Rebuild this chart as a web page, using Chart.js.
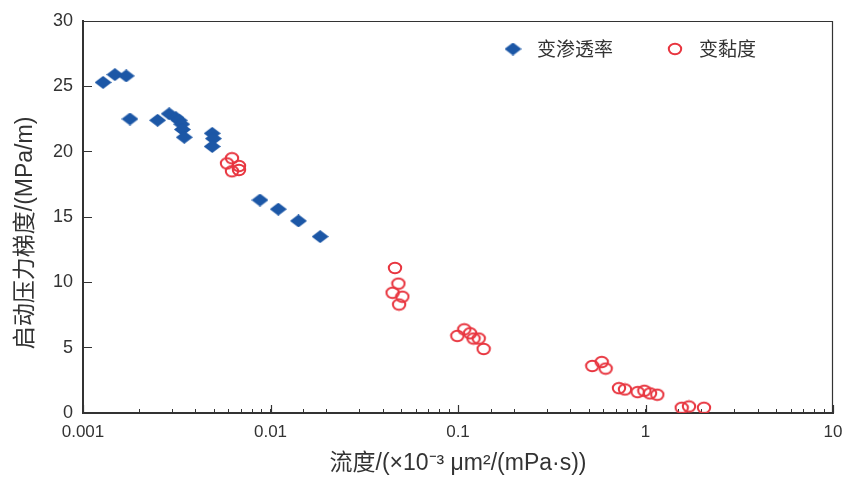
<!DOCTYPE html>
<html>
<head>
<meta charset="utf-8">
<script src="https://cdn.jsdelivr.net/npm/chart.js@4/dist/chart.umd.min.js"></script>
<style>
  html, body { margin: 0; padding: 0; background: #fff; }
</style>
</head>
<body>
<canvas id="myScatter" width="845" height="477"></canvas>
<script>
// series values
var permX = [0.00128, 0.00148, 0.00170, 0.00178, 0.00250, 0.00288, 0.00313, 0.00326, 0.00336,
	0.00339, 0.00347, 0.00489, 0.00496, 0.00489, 0.00879, 0.0110, 0.0141, 0.0184];
var permY = [25.3, 25.9, 25.8, 22.5, 22.4, 22.9, 22.6, 22.4, 22.1,
	21.7, 21.1, 21.4, 21.0, 20.4, 16.3, 15.6, 14.7, 13.5];

var viscX = [0.00586, 0.00623, 0.00679, 0.00623, 0.00679,
	0.0461, 0.0481, 0.0448, 0.0505, 0.0485,
	0.0992, 0.108, 0.116, 0.121, 0.129, 0.137,
	0.520, 0.584, 0.613, 0.722, 0.777, 0.908, 0.986, 1.057, 1.156,
	1.560, 1.706, 2.05];
var viscY = [19.1, 19.5, 18.9, 18.5, 18.6,
	11.1, 9.9, 9.2, 8.9, 8.3,
	5.9, 6.4, 6.1, 5.7, 5.7, 4.9,
	3.6, 3.9, 3.4, 1.9, 1.8, 1.6, 1.7, 1.5, 1.4,
	0.4, 0.5, 0.4];

var seriesLabels = ['变渗透率', '变黏度'];
var xTickLabels = ['0.001', '0.01', '0.1', '1', '10'];
var xTitle = '流度/(×10⁻³ μm²/(mPa·s))';
var yTitle = '启动压力梯度/(MPa/m)';

// marker images (slightly flattened, like the original)
function makeDiamond() {
	var c = document.createElement('canvas');
	c.width = 17; c.height = 13;
	var g = c.getContext('2d');
	g.fillStyle = '#1c57a6';
	g.beginPath();
	g.moveTo(0, 6.5); g.lineTo(8.5, 0); g.lineTo(17, 6.5); g.lineTo(8.5, 13);
	g.closePath();
	g.fill();
	return c;
}
function makeRing() {
	var c = document.createElement('canvas');
	c.width = 16; c.height = 14;
	var g = c.getContext('2d');
	g.strokeStyle = '#e8353f';
	g.lineWidth = 2;
	g.beginPath();
	g.ellipse(8, 7, 6.2, 5.2, 0, 0, Math.PI * 2);
	g.stroke();
	return c;
}

// top and right frame lines, long decade ticks
var framePlugin = {
	id: 'frame',
	afterDraw: function(chart) {
		var ctx = chart.ctx, a = chart.chartArea, xs = chart.scales.x;
		ctx.save();
		ctx.strokeStyle = '#333';
		ctx.lineWidth = 1.2;
		ctx.beginPath();
		ctx.moveTo(a.left, a.top + 0.5);
		ctx.lineTo(a.right - 0.5, a.top + 0.5);
		ctx.lineTo(a.right - 0.5, a.bottom);
		ctx.stroke();
		xTickLabels.forEach(function(t) {
			var px = Math.round(xs.getPixelForValue(parseFloat(t))) + 0.5;
			ctx.beginPath();
			ctx.moveTo(px, a.bottom);
			ctx.lineTo(px, a.bottom - 8);
			ctx.stroke();
		});
		ctx.restore();
	}
};

// legend drawn inside the plot area
var insideLegend = {
	id: 'insideLegend',
	afterDraw: function(chart) {
		var ctx = chart.ctx, a = chart.chartArea;
		var x = a.left + 415, y = a.top + 28;
		ctx.save();
		ctx.font = '19px "Noto Sans CJK SC"';
		ctx.textBaseline = 'middle';
		ctx.fillStyle = '#333';
		chart.data.datasets.forEach(function(ds) {
			var img = ds.pointStyle;
			ctx.drawImage(img, x + 15 - img.width / 2, y - img.height / 2);
			ctx.fillText(ds.label, x + 39, y);
			x += 39 + ctx.measureText(ds.label).width + 47;
		});
		ctx.restore();
	}
};

var ctx = document.getElementById('myScatter').getContext('2d');

var myScatter = new Chart(ctx, {
	type: 'scatter',
	data: {
		datasets: [{
				label: seriesLabels[0],
				data: permX.map(function(x, i) { return {x: x, y: permY[i]}; }),
				pointStyle: makeDiamond()
			},
			{
				label: seriesLabels[1],
				data: viscX.map(function(x, i) { return {x: x, y: viscY[i]}; }),
				pointStyle: makeRing()
			}
		]
	},
	options: {
		responsive: false,
		devicePixelRatio: 1,
		animation: false,
		layout: {
			padding: {top: 21, right: 12, left: 0, bottom: 0}
		},
		plugins: {
			legend: {display: false},
			tooltip: {enabled: false}
		},
		scales: {
			x: {
				type: 'logarithmic',
				min: 0.001,
				max: 10,
				afterFit: function(s) {
					s.height = 64;
					s.paddingLeft = 0;
					s.paddingRight = 0;
				},
				border: {display: true, color: '#333', width: 2},
				grid: {drawOnChartArea: false, drawTicks: true, tickLength: -4, color: '#333'},
				ticks: {
					autoSkip: false,
					maxRotation: 0,
					padding: 13,
					color: '#333',
					font: {family: '"Liberation Sans", Arial', size: 17},
					callback: function(value) {
						var e = Math.log10(value);
						var r = Math.round(e);
						return Math.abs(e - r) < 1e-6 ? xTickLabels[r + 3] : '';
					}
				},
				title: {
					display: true,
					text: xTitle,
					color: '#333',
					padding: {top: 0, bottom: 0},
					font: {family: '"Liberation Sans", "Noto Sans CJK SC"', size: 23}
				}
			},
			y: {
				min: 0,
				max: 30,
				afterFit: function(s) {
					s.width = 83;
					s.paddingTop = 0;
					s.paddingBottom = 0;
				},
				border: {display: true, color: '#333', width: 2},
				grid: {drawOnChartArea: false, drawTicks: true, tickLength: -9, color: '#333'},
				ticks: {
					stepSize: 5,
					padding: 19,
					color: '#333',
					font: {family: '"Liberation Sans", Arial', size: 18}
				},
				title: {
					display: true,
					text: yTitle + '     ',
					color: '#333',
					padding: {top: 12, bottom: 0},
					font: {family: '"Liberation Sans", "Noto Sans CJK SC"', size: 23}
				}
			}
		}
	},
	plugins: [framePlugin, insideLegend]
});
</script>
</body>
</html>
